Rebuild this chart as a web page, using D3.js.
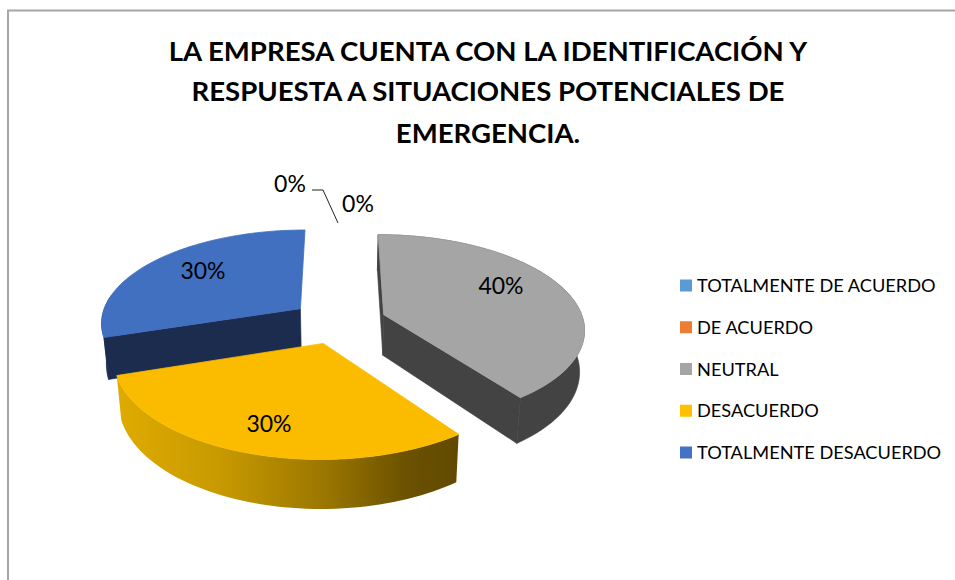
<!DOCTYPE html>
<html><head><meta charset="utf-8">
<script src="https://cdn.jsdelivr.net/npm/d3@7"></script>
<style>html,body{margin:0;background:#fff;overflow:hidden}svg{display:block;font-family:Lato,"Open Sans",sans-serif}</style>
</head><body><svg id="c" width="955" height="580"></svg>
<script>
const titleLines = ["LA EMPRESA CUENTA CON LA IDENTIFICACIÓN Y","RESPUESTA A SITUACIONES POTENCIALES DE","EMERGENCIA."];
const categories = ["TOTALMENTE DE ACUERDO","DE ACUERDO","NEUTRAL","DESACUERDO","TOTALMENTE DESACUERDO"];
const values = [0,0,40,30,30];
const legendColors = ["#5b9bd5","#ed7d31","#a5a5a5","#ffc000","#4472c4"];
const topColors = ["#5b9bd5","#ed7d31","#a5a5a5","#fbbc00","#4170c0"];
const wallColors = ["#2e4e6b","#773f18","#434343","url(#wall)","#1b2c4f"];

const svg = d3.select("#c");
const cx=338.5, cy=321.5, RX=200, RY=93, P=0.14, EXPL=0.24, DEPTH=41, SHRINK=0.98;

svg.append("path").attr("d","M8 580V10.5H955").attr("fill","none").attr("stroke","#a6a6a6").attr("stroke-width",2);

svg.append("g").selectAll("text").data(titleLines).join("text")
  .attr("x",488).attr("y",(d,i)=>[61,101,143][i]).attr("text-anchor","middle")
  .attr("font-size",27.55).attr("font-weight",700).attr("fill","#000").text(d=>d);

const arcs = d3.pie().sort(null).value(d=>d)(values);
const mid=d=>(d.startAngle+d.endAngle)/2;
const proj = (a,r,m,down)=>{
  const X=r*Math.sin(a)+EXPL*Math.sin(m), Y=-r*Math.cos(a)-EXPL*Math.cos(m);
  const w=1-P*Y;
  let x=cx+RX*X/w, y=cy+RY*Y/w;
  if(down){x=cx+(x-cx)*SHRINK; y+=DEPTH/w;}
  return [x,y];
};
const line=d3.line();
const rim=(d,down,frac=1)=>{
  const n=60, span=(d.endAngle-d.startAngle)*frac;
  return d3.range(n+1).map(i=>proj(d.startAngle+span*i/n,1,mid(d),down));
};

const defs=svg.append("defs");
const yRim=rim(arcs[3],false);
const g=defs.append("linearGradient").attr("id","wall").attr("gradientUnits","userSpaceOnUse")
  .attr("x1",d3.min(yRim,p=>p[0])).attr("x2",d3.max(yRim,p=>p[0])).attr("y1",0).attr("y2",0);
[[0,"#dfab00"],[0.3,"#c89a00"],[0.6,"#9c7700"],[0.85,"#6b5100"],[1,"#614900"]].forEach(s=>g.append("stop").attr("offset",s[0]).attr("stop-color",s[1]));

const pies=svg.append("g");
[4,2,3].forEach(i=>{
  const d=arcs[i], m=mid(d), col=wallColors[i];
  const A=proj(0,0,m,false), Ab=proj(0,0,m,true);
  const sT=proj(d.startAngle,1,m,false), sB=proj(d.startAngle,1,m,true);
  const eT=proj(d.endAngle,1,m,false), eB=proj(d.endAngle,1,m,true);
  const sl=pies.append("g");
  const wallStroke=i===3?"none":col;
  if(i!==3) sl.append("path").attr("d",line([A,sT,sB,Ab])+"Z").attr("fill",col).attr("stroke",col).attr("stroke-width",0.6);
  if(i===2) sl.append("path").attr("d",line([A,eT,eB,Ab])+"Z").attr("fill",col).attr("stroke",col).attr("stroke-width",0.6);
  const frac=i===4?0.25:1;
  sl.append("path").attr("d",line(rim(d,false,frac).concat(rim(d,true,frac).reverse()))+"Z").attr("fill",col).attr("stroke",wallStroke).attr("stroke-width",0.6);
  sl.append("path").attr("d",line([A].concat(rim(d,false)))+"Z").attr("fill",topColors[i]).attr("stroke",topColors[i]).attr("stroke-width",0.8);
});

// data labels
const labelPos=[[290,192],[358,212],[501,294],[269,432],[203,279]];
svg.append("path").attr("d",line([[312,190],[323,190],[338,223]])).attr("fill","none").attr("stroke","#222").attr("stroke-width",1);
svg.append("g").selectAll("text").data(values).join("text")
  .attr("x",(d,i)=>labelPos[i][0]).attr("y",(d,i)=>labelPos[i][1]).attr("text-anchor","middle")
  .attr("font-size",23).attr("fill","#000").text(d=>d+"%");

// legend
const ly=d3.scalePoint().domain(categories).range([285.5,452.5]);
const leg=svg.append("g").selectAll("g").data(categories).join("g").attr("transform",d=>`translate(680,${ly(d)})`);
leg.append("rect").attr("x",0).attr("y",-6).attr("width",12).attr("height",12).attr("fill",(d,i)=>legendColors[i]);
leg.append("text").attr("x",17).attr("y",6.5).attr("font-size",18.2).attr("fill","#000").text(d=>d);
</script></body></html>
